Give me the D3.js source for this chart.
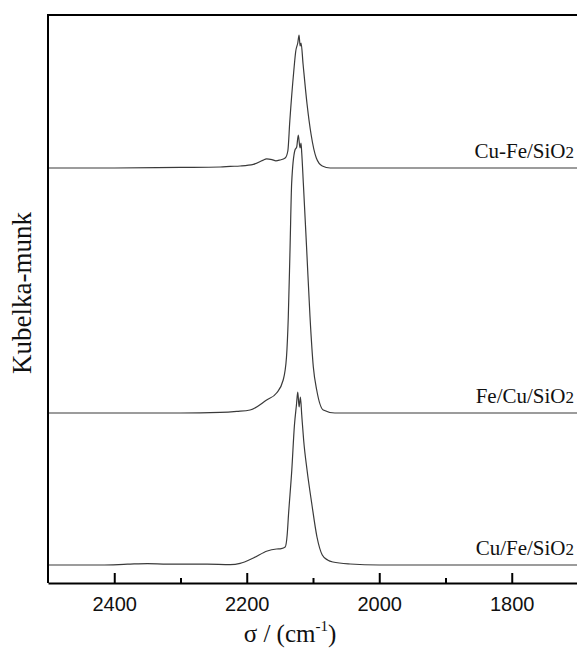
<!DOCTYPE html>
<html lang="en">
<head>
<meta charset="utf-8">
<title>Kubelka-munk spectra</title>
<script src="https://d3js.org/d3.v7.min.js" charset="utf-8"></script>
<style>
  body { margin: 0; background: #fff; }
</style>
</head>
<body>
<script type="text/javascript">

var width = 577;
var height = 648;

// series names (top to bottom) and their vertical offsets
var seriesNames = ["Cu-Fe/SiO", "Fe/Cu/SiO", "Cu/Fe/SiO"];
var seriesOffsets = [2.075, 0.85, 0.09];

// Cu-Fe/SiO2
var wnCuFe = [2500, 2400, 2300, 2240, 2225, 2210, 2190, 2176, 2170, 2162, 2156, 2150, 2142, 2138, 2135, 2129, 2126, 2123, 2121, 2119.5, 2118, 2115, 2109, 2103, 2095, 2086, 2074, 2000, 1900, 1800, 1700];
var kmCuFe = [0, 0, 0.003, 0.005, 0.008, 0.01, 0.018, 0.038, 0.046, 0.042, 0.036, 0.04, 0.05, 0.085, 0.235, 0.485, 0.585, 0.625, 0.665, 0.61, 0.625, 0.52, 0.32, 0.17, 0.05, 0.01, 0, 0, 0, 0, 0];

// Fe/Cu/SiO2
var wnFeCu = [2500, 2400, 2300, 2240, 2215, 2195, 2170, 2155, 2145, 2140, 2137.3, 2134.7, 2132.2, 2127.2, 2124.6, 2122.2, 2119.6, 2118.1, 2117, 2114.6, 2109.5, 2104.5, 2099.5, 2094.4, 2084.5, 2067, 2000, 1900, 1800, 1700];
var kmFeCu = [0, 0, 0, 0.003, 0.008, 0.015, 0.065, 0.1, 0.165, 0.28, 0.48, 0.815, 1.15, 1.315, 1.33, 1.39, 1.325, 1.35, 1.3, 1.15, 0.815, 0.48, 0.23, 0.115, 0.015, 0, 0, 0, 0, 0];

// Cu/Fe/SiO2
var wnCuFe2 = [2500, 2420, 2380, 2350, 2320, 2260, 2225, 2210, 2190, 2169, 2155, 2148, 2142, 2139, 2137, 2132, 2128, 2125, 2123, 2121, 2119, 2117, 2114, 2109, 2102, 2094, 2086, 2078, 2070, 2044, 2000, 1900, 1800, 1700];
var kmCuFe2 = [0, 0, 0.004, 0.007, 0.004, 0.004, 0.002, 0.008, 0.035, 0.07, 0.08, 0.082, 0.09, 0.15, 0.25, 0.475, 0.7, 0.8, 0.865, 0.79, 0.84, 0.75, 0.62, 0.475, 0.31, 0.14, 0.05, 0.025, 0.015, 0.005, 0, 0, 0, 0];

var seriesWn = [wnCuFe, wnFeCu, wnCuFe2];
var seriesKm = [kmCuFe, kmFeCu, kmCuFe2];

var majorTicks = [2400, 2200, 2000, 1800];
var minorTicks = [2300, 2100, 1900];

var svg = d3.select("body").append("svg")
            .attr("width", width)
            .attr("height", height);

var x = d3.scaleLinear().domain([2500, 1700]).range([48, 578]);
var y = d3.scaleLinear().domain([0, 2.84]).range([583, 15]);

var line = d3.line()
             .x(function(d) { return x(d[0]); })
             .y(function(d) { return y(d[1]); })
             .curve(d3.curveMonotoneX);

seriesNames.forEach(function(name, i) {
  var pts = seriesWn[i].map(function(w, j) { return [w, seriesKm[i][j] + seriesOffsets[i]]; });
  svg.append("path")
     .datum(pts)
     .attr("d", line)
     .attr("fill", "none")
     .attr("stroke", "#3a3a3a")
     .attr("stroke-width", 1.2);

  var t = svg.append("text")
             .attr("x", 574)
             .attr("y", y(seriesOffsets[i]) - 10)
             .attr("text-anchor", "end")
             .attr("font-family", "'Liberation Serif', 'Times New Roman', serif")
             .attr("font-size", 21)
             .attr("fill", "#111");
  t.append("tspan").text(name);
  t.append("tspan").attr("font-size", 17).text("2");
});

// frame: top and left
svg.append("line")
   .attr("x1", x(2500) - 1).attr("x2", width)
   .attr("y1", y(2.84)).attr("y2", y(2.84))
   .attr("stroke", "#000").attr("stroke-width", 2);
svg.append("line")
   .attr("x1", x(2500)).attr("x2", x(2500))
   .attr("y1", y(2.84)).attr("y2", y(0))
   .attr("stroke", "#000").attr("stroke-width", 2);

// bottom axis, ticks pointing in
var xAxis = svg.append("g")
               .attr("transform", "translate(0," + y(0) + ")")
               .call(d3.axisBottom(x).tickValues(majorTicks).tickSize(-10).tickSizeOuter(0).tickPadding(14).tickFormat(d3.format("d")));
xAxis.select(".domain").attr("stroke", "#000").attr("stroke-width", 2);
xAxis.selectAll(".tick line").attr("stroke", "#000").attr("stroke-width", 2);
xAxis.selectAll(".tick text")
     .attr("font-family", "'Liberation Sans', Arial, sans-serif")
     .attr("font-size", 20)
     .attr("fill", "#111");

var xMinor = svg.append("g")
                .attr("transform", "translate(0," + y(0) + ")")
                .call(d3.axisBottom(x).tickValues(minorTicks).tickSize(-5).tickSizeOuter(0).tickFormat(""));
xMinor.select(".domain").remove();
xMinor.selectAll(".tick line").attr("stroke", "#000").attr("stroke-width", 2);

// axis titles
svg.append("text")
   .attr("transform", "translate(31,293) rotate(-90)")
   .attr("text-anchor", "middle")
   .attr("font-family", "'Liberation Serif', 'Times New Roman', serif")
   .attr("font-size", 27)
   .attr("fill", "#111")
   .text("Kubelka-munk");

var xt = svg.append("text")
            .attr("x", 290)
            .attr("y", 642)
            .attr("text-anchor", "middle")
            .attr("font-family", "'Liberation Serif', 'Times New Roman', serif")
            .attr("font-size", 25)
            .attr("fill", "#111");
xt.append("tspan").text("\u03c3 / (cm");
xt.append("tspan").attr("font-size", 15).attr("dy", -11).text("-1");
xt.append("tspan").attr("dy", 11).text(")");

</script>
</body>
</html>
